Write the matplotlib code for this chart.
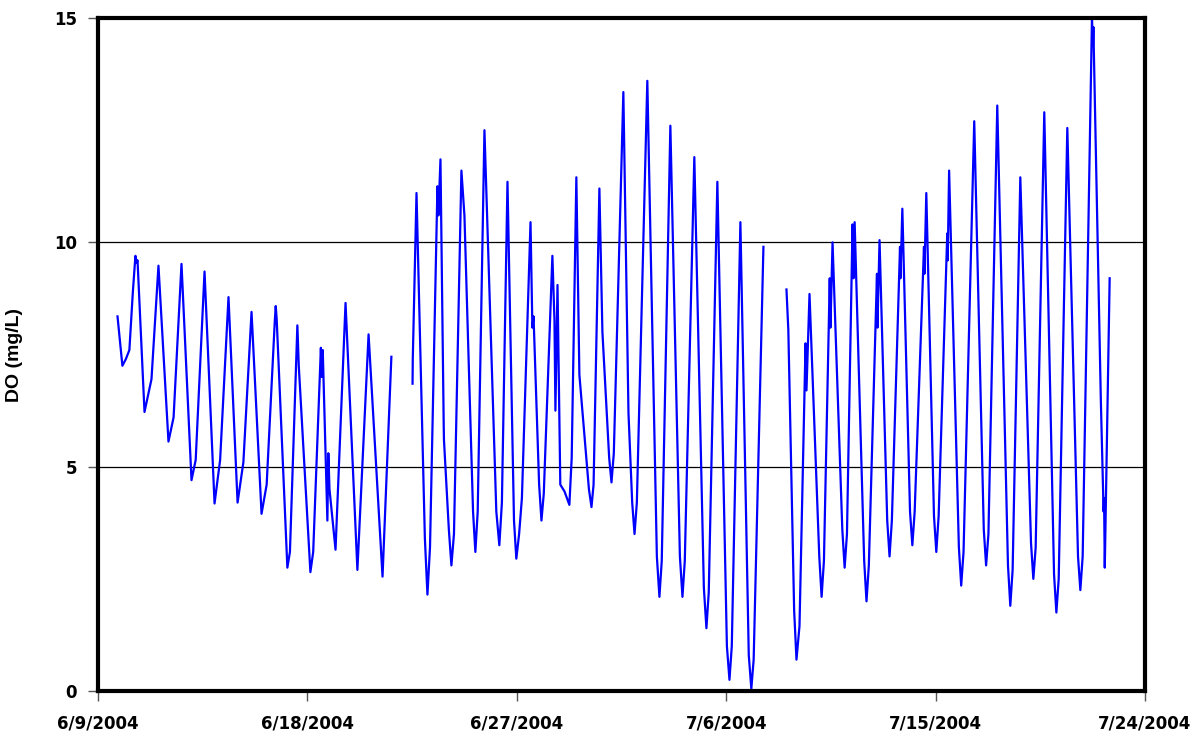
import numpy as np
import pandas as pd
import matplotlib
matplotlib.use('Agg')
import matplotlib.pyplot as plt
from matplotlib.ticker import FuncFormatter
import matplotlib.dates as mdates

# time in days after 6/9/2004 00:00, DO in mg/L
seg1_day = [0.84, 1.05, 1.20, 1.35, 1.50, 1.61, 1.66, 1.70, 2.00, 2.30, 2.60, 3.03, 3.25,
            3.59, 4.02, 4.20, 4.58, 5.01, 5.25, 5.61, 6.00, 6.25, 6.60, 7.03, 7.25, 7.60,
            7.64, 7.68, 8.14, 8.25, 8.57, 8.63, 9.13, 9.25, 9.58, 9.62, 9.66, 9.86, 9.90,
            9.95, 10.21, 10.64, 11.15, 11.63, 12.23, 12.61]
seg1_do = [8.35, 7.25, 7.40, 7.60, 8.90, 9.70, 9.55, 9.60, 6.22, 6.95, 9.48, 5.56, 6.10,
           9.52, 4.70, 5.15, 9.35, 4.18, 5.15, 8.78, 4.20, 5.10, 8.45, 3.95, 4.60, 8.25,
           8.58, 8.30, 2.75, 3.10, 8.15, 7.25, 2.65, 3.10, 7.65, 7.00, 7.60, 3.80, 5.30,
           4.50, 3.15, 8.65, 2.70, 7.95, 2.55, 7.45]

seg2_day = [13.52, 13.53, 13.69, 14.05, 14.16, 14.27, 14.59, 14.63, 14.72, 14.86, 14.87,
            15.08, 15.19, 15.30, 15.62, 15.75, 16.12, 16.22, 16.32, 16.61, 17.12, 17.25,
            17.36, 17.60, 17.88, 17.98, 18.10, 18.22, 18.59, 18.67, 18.72, 18.96, 19.06,
            19.16, 19.53, 19.62, 19.66, 19.75, 19.87, 20.05, 20.26, 20.36, 20.56, 20.69,
            21.10, 21.21, 21.30, 21.55, 21.68, 21.97, 22.07, 22.17, 22.58, 22.80, 22.96,
            23.06, 23.16, 23.61, 24.02, 24.13, 24.23, 24.60, 25.01, 25.12, 25.22, 25.63,
            26.04, 26.15, 26.25, 26.62, 27.03, 27.14, 27.24, 27.61, 27.97, 28.08, 28.18,
            28.60]
seg2_do = [6.85, 7.40, 11.10, 3.40, 2.15, 3.20, 11.25, 10.60, 11.85, 5.90, 5.60,
           3.60, 2.80, 3.50, 11.60, 10.60, 4.00, 3.10, 4.00, 12.50, 4.00, 3.25,
           4.20, 11.35, 3.80, 2.95, 3.50, 4.30, 10.45, 8.10, 8.35, 4.60, 3.80,
           4.40, 9.70, 8.25, 6.25, 9.05, 4.60, 4.45, 4.15, 5.20, 11.45, 7.05,
           4.50, 4.10, 4.60, 11.20, 8.00, 5.20, 4.65, 5.30, 13.35, 6.20, 4.20,
           3.50, 4.20, 13.60, 3.00, 2.10, 2.90, 12.60, 3.00, 2.10, 2.90, 11.90,
           2.30, 1.40, 2.20, 11.35, 1.00, 0.25, 1.00, 10.45, 0.80, 0.05, 0.70,
           9.90]

seg3_day = [29.59, 29.67, 29.92, 30.02, 30.15, 30.41, 30.45, 30.58, 31.00, 31.10, 31.20,
            31.45, 31.48, 31.57, 31.99, 32.09, 32.19, 32.43, 32.47, 32.52, 32.93, 33.03,
            33.13, 33.48, 33.50, 33.59, 33.92, 34.02, 34.12, 34.47, 34.49, 34.57, 34.90,
            35.00, 35.10, 35.50, 35.52, 35.60, 35.93, 36.03, 36.13, 36.50, 36.52, 36.58,
            37.00, 37.10, 37.20, 37.66, 38.07, 38.17, 38.27, 38.65, 39.11, 39.21, 39.31,
            39.64, 40.10, 40.20, 40.30, 40.67, 41.09, 41.19, 41.29, 41.66, 42.12, 42.22,
            42.32, 42.72, 42.76, 42.78, 43.10, 43.22, 43.24, 43.27, 43.48]
seg3_do = [8.95, 8.05, 1.80, 0.70, 1.45, 7.75, 6.70, 8.85, 3.00, 2.10, 2.90,
           9.20, 8.10, 10.00, 3.60, 2.75, 3.50, 10.40, 9.20, 10.45, 2.90, 2.00,
           2.80, 9.30, 8.10, 10.05, 3.80, 3.00, 3.80, 9.90, 9.20, 10.75, 4.00,
           3.25, 4.00, 9.90, 9.30, 11.10, 3.90, 3.10, 3.90, 10.20, 9.60, 11.60,
           3.20, 2.35, 3.10, 12.70, 3.60, 2.80, 3.50, 13.05, 2.80, 1.90, 2.70,
           11.45, 3.30, 2.50, 3.20, 12.90, 2.60, 1.75, 2.50, 12.55, 3.00, 2.25,
           3.00, 15.00, 14.40, 14.80, 6.50, 4.00, 4.30, 2.75, 9.20]

start = pd.Timestamp('2004-06-09')
end = pd.Timestamp('2004-07-24')

fig = plt.figure(figsize=(12.02, 7.36), dpi=100)
ax = fig.add_axes([0.0815, 0.0611, 0.8711, 0.9144])

for d, v in [(seg1_day, seg1_do), (seg2_day, seg2_do), (seg3_day, seg3_do)]:
    t = start + pd.to_timedelta(d, unit='D')
    ax.plot(t, v, color='#0000ff', linewidth=1.6)

ax.set_xlim(start, end)
ax.set_ylim(0, 15)
ax.set_yticks([0, 5, 10, 15])
ax.set_xticks(pd.date_range(start, end, freq='9D'))
ax.xaxis.set_major_formatter(FuncFormatter(
    lambda x, pos: (lambda d: f'{d.month}/{d.day}/{d.year}')(mdates.num2date(x))))

for y in [5, 10]:
    ax.axhline(y, color='black', linewidth=0.9, zorder=0)

for s in ax.spines.values():
    s.set_linewidth(3)
ax.tick_params(axis='both', direction='out', length=7, width=1, color='#555555')
ax.tick_params(axis='y', pad=8)
ax.tick_params(axis='x', pad=10)
for lab in ax.get_xticklabels() + ax.get_yticklabels():
    lab.set_fontweight('heavy')
    lab.set_fontsize(12)
    lab.set_family('DejaVu Sans')

ax.set_ylabel('DO (mg/L)', fontsize=14, fontweight='bold', family='Liberation Sans')
ax.yaxis.set_label_coords(-0.072, 0.5)

fig.savefig('out.png', dpi=100)
